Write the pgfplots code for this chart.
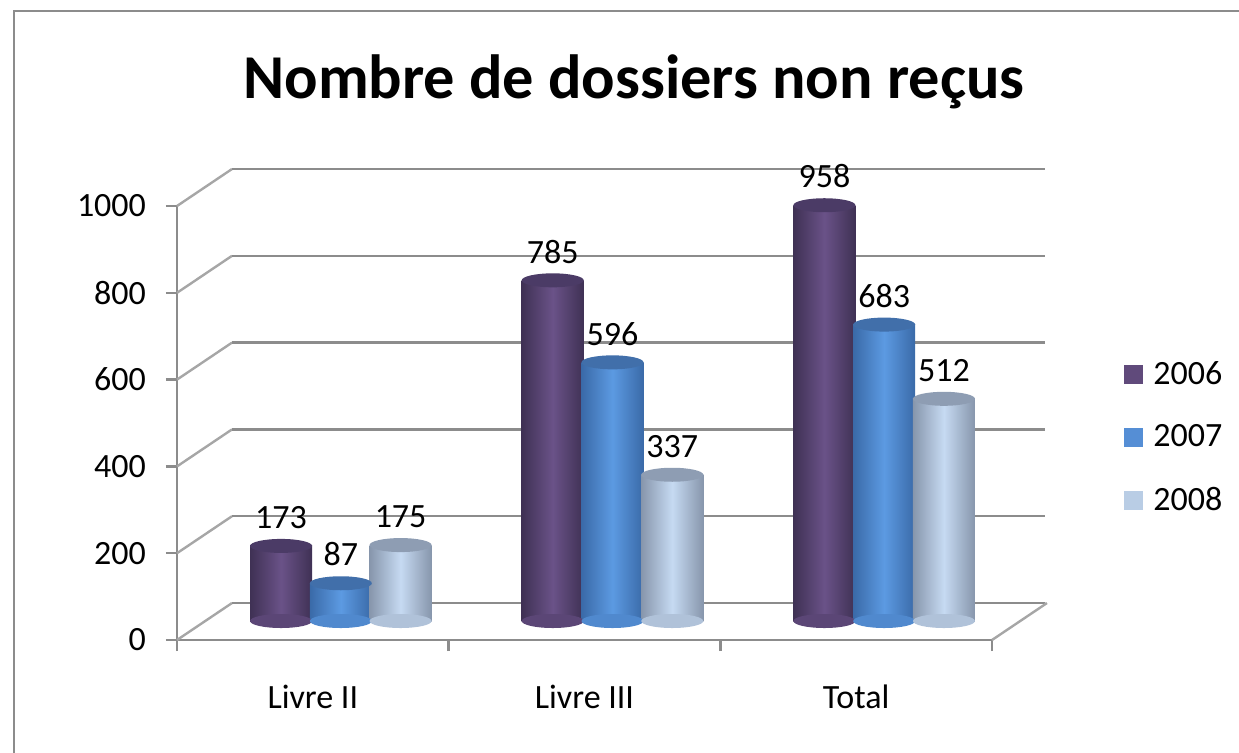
\documentclass[border=0pt]{standalone}
\usepackage{fontspec}
\setmainfont{Carlito}
\usepackage{pgfplots}
\pgfplotsset{compat=1.18}
\pgfplotsset{/pgf/number format/assume math mode=true, /pgf/number format/1000 sep={}}
\definecolor{gridg}{HTML}{8C8C8C}
\definecolor{diag}{HTML}{A6A6A6}
\definecolor{aEdge}{HTML}{3F3154}\definecolor{aMid}{HTML}{6A5288}\definecolor{aTop}{HTML}{4B3B66}\definecolor{aLeg}{HTML}{604A7B}
\definecolor{bEdge}{HTML}{3A6AA8}\definecolor{bMid}{HTML}{5C9AE2}\definecolor{bTop}{HTML}{416FAA}\definecolor{bLeg}{HTML}{558ED5}
\definecolor{cEdge}{HTML}{8796AC}\definecolor{cMid}{HTML}{C6DAF2}\definecolor{cTop}{HTML}{8E9DB3}\definecolor{cLeg}{HTML}{B9CDE5}
\pgfdeclareplotmark{cyl}{\pgfpathellipse{\pgfpointorigin}{\pgfqpoint{15.5pt}{0pt}}{\pgfqpoint{0pt}{3.5pt}}\pgfusepath{fill}}
% \cyl{x}{value}{edge}{mid}{top}
\newcommand{\cyl}[5]{%
\addplot[forget plot, only marks, mark=cyl, mark options={fill=#4!65!#3}] coordinates {(#1,0)};
\addplot[forget plot, ybar, bar shift=0pt, draw=none, left color=#3, right color=#3, middle color=#4, nodes near coords] coordinates {(#1,#2)};
\addplot[forget plot, only marks, mark=cyl, mark options={fill=#5}] coordinates {(#1,#2)};
}
\begin{document}
\begin{tikzpicture}
\useasboundingbox (0,0) rectangle (619.5pt,-376pt);
\draw[gridg, line width=0.8pt] (7pt,-380pt) -- (7pt,-5.5pt) -- (625pt,-5.5pt);
\node[font=\bfseries\fontsize{31.2}{37}\selectfont, anchor=base, inner sep=0pt] at (317pt,-49pt) {Nombre de dossiers non reçus};
% front plane axis
\begin{axis}[at={(88.5pt,-320pt)}, anchor=south west, scale only axis,
  width=407.5pt, height=217pt, xmin=0, xmax=3, ymin=0, ymax=1000,
  axis x line*=bottom, axis y line*=left,
  axis line style={gridg, line width=1.2pt, -},
  ytick={0,200,...,1000}, xtick={0,1,2,3}, xticklabels={},
  tick align=outside, major tick length=5.5pt,
  tick style={gridg, line width=1.2pt},
  extra x ticks={0.5,1.5,2.5}, extra x tick labels={Livre II, Livre III, Total},
  extra x tick style={major tick length=0pt, tick label style={yshift=-19pt}},
  ticklabel style={font=\fontsize{17}{20}\selectfont},
  yticklabel style={xshift=-6.5pt},
  clip=false]
\addplot[draw=none] coordinates {(0,0)};
\pgfplotsinvokeforeach{0,200,400,600,800,1000}{
  \draw[diag, line width=1.2pt] (axis cs:0,#1) -- ++(27.5pt,18.5pt);
  \draw[gridg, line width=1.2pt] (axis cs:0,#1) ++(27.5pt,18.5pt) -- ++(406.5pt,0pt);
}
\draw[diag, line width=1.2pt] (axis cs:3,0) -- ++(27.5pt,18.5pt);
\end{axis}
% bars axis (mid depth)
\begin{axis}[at={(102.5pt,-310.5pt)}, anchor=south west, scale only axis,
  width=407.5pt, height=217pt, xmin=0, xmax=3, ymin=0, ymax=1000,
  hide axis, clip=false, bar width=31pt,
  every node near coord/.append style={font=\fontsize{17}{20}\selectfont, text=black, yshift=5pt},
  legend image code/.code={\fill[#1, draw=none] (0pt,-4.75pt) rectangle (9.5pt,4.75pt); \path (12.5pt,0pt);},
  legend style={at={(1.1276,0.4228)}, anchor=west, draw=none, fill=none,
    font=\fontsize{17}{20}\selectfont, row sep=14.75pt, inner sep=0pt},
  legend cell align=left]
\addlegendimage{fill=aLeg, draw=none}\addlegendentry{2006}
\addlegendimage{fill=bLeg, draw=none}\addlegendentry{2007}
\addlegendimage{fill=cLeg, draw=none}\addlegendentry{2008}
% Livre II
\cyl{0.28}{173}{aEdge}{aMid}{aTop}
\cyl{0.50}{87}{bEdge}{bMid}{bTop}
\cyl{0.72}{175}{cEdge}{cMid}{cTop}
% Livre III
\cyl{1.28}{785}{aEdge}{aMid}{aTop}
\cyl{1.50}{596}{bEdge}{bMid}{bTop}
\cyl{1.72}{337}{cEdge}{cMid}{cTop}
% Total
\cyl{2.28}{958}{aEdge}{aMid}{aTop}
\cyl{2.50}{683}{bEdge}{bMid}{bTop}
\cyl{2.72}{512}{cEdge}{cMid}{cTop}
\end{axis}
\end{tikzpicture}
\end{document}
